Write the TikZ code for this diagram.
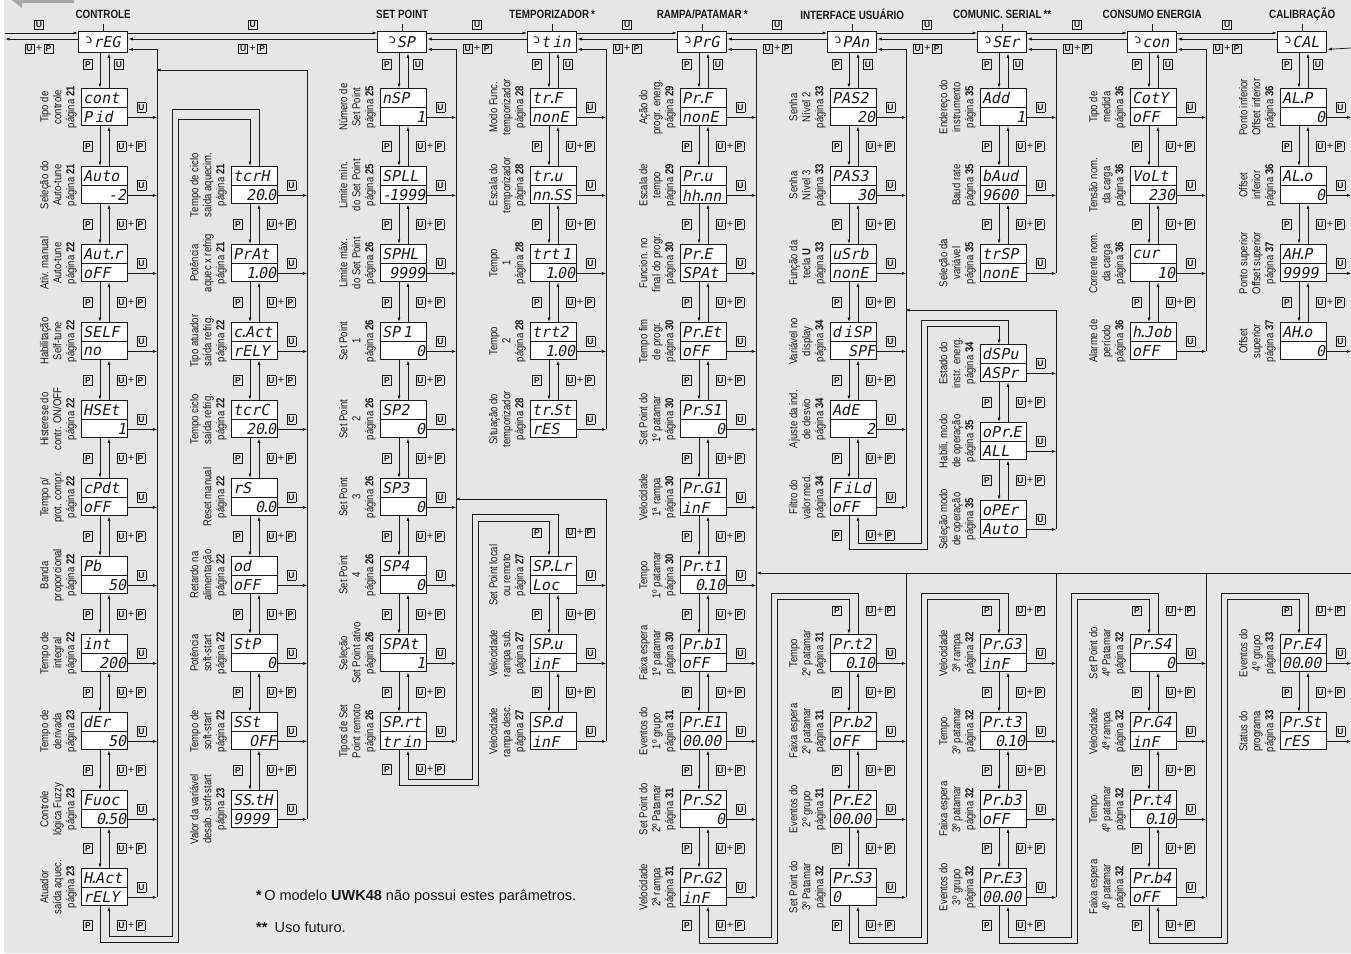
\documentclass[tikz,border=0pt]{standalone}
\usepackage{fontspec}
\usepackage{graphicx}
\setmainfont{Liberation Sans}
\newfontfamily\lblfont{Liberation Sans}[FakeStretch=0.83]
\newfontfamily\headfont{Liberation Sans}[FakeStretch=0.82]
\newfontfamily\segfont{DejaVu Sans Mono}[FakeSlant=0.2]
\usetikzlibrary{arrows.meta,calc}

\definecolor{panel}{HTML}{E6E6E6}
\definecolor{ink}{HTML}{1A1A1A}
\definecolor{tabgray}{HTML}{A8A8A8}

\tikzset{
  dispbox/.style={draw=ink, line width=1.4pt, fill=white, minimum width=46pt, minimum height=37pt, inner sep=0pt},
  topdisp/.style={draw=ink, line width=1.4pt, fill=white, minimum width=49pt, minimum height=21pt, inner sep=0pt, text=ink, font=\segfont\fontsize{15}{15}\selectfont},
  bar/.style={draw=ink, line width=0.8pt},
  seg/.style={inner sep=1pt, text=ink, font=\segfont\fontsize{15}{15}\selectfont},
  lbl/.style={rotate=90, anchor=south, align=center, inner sep=0pt, text=ink, font=\lblfont\fontsize{11.5}{13}\selectfont},
  head/.style={inner sep=0pt, text=ink, font=\headfont\bfseries\fontsize{12}{12}\selectfont},
  key/.style={inner sep=0pt, text=ink, font=\bfseries\fontsize{8.5}{9}\selectfont},
  note/.style={inner sep=0pt, text=ink, font=\fontsize{14.5}{16}\selectfont},
  wire/.style={draw=ink, line width=0.75pt},
  flow/.style={wire, -{Latex[length=4.5pt,width=3pt]}},
}

% keys of the front panel
\newcommand\kU{{\setlength\fboxsep{1.3pt}\setlength\fboxrule{0.7pt}\fbox{\makebox[5.6pt]{U}}}}
\newcommand\kP{{\setlength\fboxsep{1.3pt}\setlength\fboxrule{0.7pt}\fbox{\makebox[5.6pt]{P}}}}
\newcommand\kUP{\kU\hspace{1.5pt}{\mdseries\fontsize{11}{11}\selectfont+}\hspace{1.5pt}\kP}
\newcommand\mtop{\raisebox{0.5ex}{\reflectbox{\scalebox{0.8}{c}}}}
\newcommand\dt{\makebox[3pt]{.}}

% menu head: name, left x, display text, title
\newcommand\topbox[4]{%
  \node[topdisp, anchor=north west] (#1) at (#2,31) {#3};
  \node[head] (#1-h) at ($(#1.north)+(0,-17)$) {#4};
  \draw[wire] ($(#1.north)+(0,-7)$) -- (#1.north);
}
% parameter display: name, left x, top y, line 1, line 2 left, line 2 right, label
\newcommand\disp[7]{%
  \node[dispbox, anchor=north west] (#1) at (#2,#3) {};
  \draw[bar] (#1.west) -- (#1.east);
  \node[seg, anchor=west] (#1-a) at ($(#1.north west)+(1,10)$) {#4};
  \node[seg, anchor=west] (#1-b) at ($(#1.south west)+(1,-9)$) {#5};
  \node[seg, anchor=east] (#1-c) at ($(#1.south east)+(-1,-9)$) {#6};
  \node[lbl] (#1-l) at ($(#1.west)+(-4,0)$) {#7};
}
% head -> first parameter
\newcommand\first[2]{%
  \draw[flow] ($(#1.south west)+(22,0)$) -- ($(#2.north west)+(19,0)$);
  \draw[flow] ($(#2.north west)+(28,0)$) -- ($(#1.south west)+(31,0)$);
  \node[key] (#2-fp) at ($(#1.south west)+(10,11)$) {\kP};
  \node[key] (#2-fu) at ($(#1.south west)+(41,11)$) {\kU};
}
% parameter -> next parameter
\newcommand\link[2]{%
  \draw[flow] ($(#1.south west)+(19,0)$) -- ($(#2.north west)+(19,0)$);
  \draw[flow] ($(#2.north west)+(28,0)$) -- ($(#1.south west)+(28,0)$);
  \node[key] (#1-lp) at ($(#1.south west)+(7,20)$) {\kP};
  \node[key] (#1-lup) at ($(#1.south west)+(50,20)$) {\kUP};
}
% U key back to the menu line
\newcommand\uout[1]{%
  \coordinate (#1-u) at ($(#1.south east)+(29,-9)$);
  \draw[flow] ($(#1.south east)+(0,-9)$) -- (#1-u);
  \node[key] (#1-ku) at ($(#1.south east)+(13,-19)$) {\kU};
}
\newcommand\uoutr[1]{%
  \coordinate (#1-u) at ($(#1.south east)+(24,-9)$);
  \draw[flow] ($(#1.south east)+(0,-9)$) -- (#1-u);
  \node[key] (#1-ku) at ($(#1.south east)+(13,-19)$) {\kU};
}
% last parameter of a column -> top of next column
\newcommand\wrap[8]{%
  \coordinate (#1-w1) at (#3,#5); \coordinate (#1-w2) at (#3,#7);
  \coordinate (#1-w3) at (#4,#6); \coordinate (#1-w4) at (#4,#8);
  \draw[flow] ($(#1.south west)+(19,0)$) |- (#1-w4) -- (#1-w3) -| ($(#2.north west)+(19,0)$);
  \draw[flow] ($(#2.north west)+(28,0)$) |- (#1-w1) -- (#1-w2) -| ($(#1.south west)+(28,0)$);
  \node[key] (#1-wp) at ($(#1.south west)+(7,19)$) {\kP};
  \node[key] (#1-wup) at ($(#1.south west)+(50,19)$) {\kUP};
}
\newcommand\wraplbl[1]{%
  \node[key] (#1-ap) at ($(#1.north west)+(7,-23)$) {\kP};
  \node[key] (#1-aup) at ($(#1.north west)+(50,-23)$) {\kUP};
}
% head -> next head
\newcommand\nexttop[2]{%
  \draw[flow] ($(#1.north east)+(0,2)$) -- ($(#2.north west)+(0,2)$);
  \draw[flow] ($(#2.north west)+(0,8)$) -- ($(#1.north east)+(0,8)$);
  \node[key] (#1-tu) at ($(#1.north east)!.5!(#2.north west)+(0,-6)$) {\kU};
  \node[key] (#1-tup) at ($(#1.north east)!.5!(#2.north west)+(0,18)$) {\kUP};
}

\begin{document}
\begin{tikzpicture}[x=1pt, y=-1pt]
\useasboundingbox (0,0) rectangle (1351,953);
\fill[white] (0,0) rectangle (1351,953);
\fill[panel] (4,0) rectangle (1351,953);
\fill[tabgray] (8,-3) -- (22,8) -- (22,3) -- (74,3) -- (74,-3) -- cycle;

% menu heads
\topbox{rEG}{78}{\mtop rEG}{CONTROLE}
\topbox{sp}{377}{\mtop SP}{SET POINT}
\topbox{tin}{527}{\mtop t\,in}{TEMPORIZADOR\,*}
\topbox{prg}{677}{\mtop PrG}{RAMPA/PATAMAR\,*}
\topbox{pan}{827}{\mtop PAn}{INTERFACE USUÁRIO}
\topbox{ser}{977}{\mtop SEr}{COMUNIC. SERIAL\,**}
\topbox{con}{1127}{\mtop con}{CONSUMO ENERGIA}
\topbox{cal}{1277}{\mtop CAL}{CALIBRAÇÃO}

\nexttop{rEG}{sp}
\nexttop{sp}{tin}
\nexttop{tin}{prg}
\nexttop{prg}{pan}
\nexttop{pan}{ser}
\nexttop{ser}{con}
\nexttop{con}{cal}
\coordinate (edgea) at (5,33);
\coordinate (edgeb) at (5,39);
\coordinate (edgec) at (1351,48);
\draw[flow] (edgea) -- ($(rEG.north west)+(0,2)$);
\draw[flow] ($(rEG.north west)+(0,8)$) -- (edgeb);
\node[key] (edge-u) at (39,25) {\kU};
\node[key] (edge-up) at (39,49) {\kUP};
\draw[flow] (edgec) -- ($(cal.south east)+(0,-4)$);

% CONTROLE
\disp{cont}{81}{88}{cont}{P\,id}{}{Tipo de\\controle\\página \textbf{21}}
\disp{auto}{81}{166}{Auto}{}{-2}{Seleção do\\Auto-tune\\página \textbf{21}}
\disp{autr}{81}{244}{Aut\dt r}{oFF}{}{Ativ. manual\\Auto-tune\\página \textbf{22}}
\disp{self}{81}{322}{SELF}{no}{}{Habilitação\\Self-tune\\página \textbf{22}}
\disp{hset}{81}{400}{HSEt}{}{1}{Histerese do\\contr. ON/OFF\\página \textbf{22}}
\disp{cpdt}{81}{478}{cPdt}{oFF}{}{Tempo p/\\prot. compr.\\página \textbf{22}}
\disp{pb}{81}{556}{Pb}{}{50}{Banda\\proporcional\\página \textbf{22}}
\disp{int}{81}{634}{int}{}{200}{Tempo de\\integral\\página \textbf{22}}
\disp{der}{81}{712}{dEr}{}{50}{Tempo de\\derivada\\página \textbf{23}}
\disp{fuoc}{81}{790}{Fuoc}{}{0\dt50}{Controle\\lógica Fuzzy\\página \textbf{23}}
\disp{hact}{81}{868}{H\dt Act}{rELY}{}{Atuador\\saída aquec.\\página \textbf{23}}
\first{rEG}{cont}
\link{cont}{auto} \link{auto}{autr} \link{autr}{self} \link{self}{hset} \link{hset}{cpdt}
\link{cpdt}{pb} \link{pb}{int} \link{int}{der} \link{der}{fuoc} \link{fuoc}{hact}
\uout{cont} \uout{auto} \uout{autr} \uout{self} \uout{hset} \uout{cpdt}
\uout{pb} \uout{int} \uout{der} \uout{fuoc} \uout{hact}
\draw[flow] (hact-u) |- ($(rEG.south east)+(0,-4)$);

\disp{tcrh}{231}{166}{tcrH}{}{20\dt0}{Tempo de ciclo\\saída aquecim.\\página \textbf{21}}
\disp{prat}{231}{244}{PrAt}{}{1\dt00}{Potência\\aquec x refrig\\página \textbf{21}}
\disp{cact}{231}{322}{c\dt Act}{rELY}{}{Tipo atuador\\saída refrig.\\página \textbf{22}}
\disp{tcrc}{231}{400}{tcrC}{}{20\dt0}{Tempo ciclo\\saída refrig.\\página \textbf{22}}
\disp{rs}{231}{478}{rS}{}{0\dt0}{Reset manual\\página \textbf{22}}
\disp{od}{231}{556}{od}{oFF}{}{Retardo na\\alimentação\\página \textbf{22}}
\disp{stp}{231}{634}{StP}{}{0}{Potência\\soft-start\\página \textbf{22}}
\disp{sst}{231}{712}{SSt}{}{OFF}{Tempo de\\soft-start\\página \textbf{22}}
\disp{ssth}{231}{790}{SS\dt tH}{9999}{}{Valor da variável\\desab. soft-start\\página \textbf{23}}
\link{tcrh}{prat} \link{prat}{cact} \link{cact}{tcrc} \link{tcrc}{rs}
\link{rs}{od} \link{od}{stp} \link{stp}{sst} \link{sst}{ssth}
\uout{tcrh} \uout{prat} \uout{cact} \uout{tcrc} \uout{rs}
\uout{od} \uout{stp} \uout{sst} \uout{ssth}
\coordinate (regjoin) at (156,70);
\draw[flow] (ssth-u) |- (regjoin);
\wrap{hact}{tcrh}{172}{178}{109}{119}{936}{942}

% SET POINT
\disp{nsp}{380}{88}{nSP}{}{1}{Número de\\Set Point\\página \textbf{25}}
\disp{spll}{380}{166}{SPLL}{}{\makebox[5pt]{-}1999}{Limite mín.\\do Set Point\\página \textbf{25}}
\disp{sphl}{380}{244}{SPHL}{}{9999}{Limite máx.\\do Set Point\\página \textbf{26}}
\disp{spa}{380}{322}{SP\,1}{}{0}{Set Point\\1\\página \textbf{26}}
\disp{spb}{380}{400}{SP2}{}{0}{Set Point\\2\\página \textbf{26}}
\disp{spc}{380}{478}{SP3}{}{0}{Set Point\\3\\página \textbf{26}}
\disp{spd}{380}{556}{SP4}{}{0}{Set Point\\4\\página \textbf{26}}
\disp{spat}{380}{634}{SPAt}{}{1}{Seleção\\Set Point ativo\\página \textbf{26}}
\disp{sprt}{380}{712}{SP\dt rt}{tr\,in}{}{Tipos de Set\\Point remoto\\página \textbf{26}}
\first{sp}{nsp}
\link{nsp}{spll} \link{spll}{sphl} \link{sphl}{spa} \link{spa}{spb}
\link{spb}{spc} \link{spc}{spd} \link{spd}{spat} \link{spat}{sprt}
\uout{nsp} \uout{spll} \uout{sphl} \uout{spa} \uout{spb}
\uout{spc} \uout{spd} \uout{spat} \uout{sprt}
\draw[flow] (sprt-u) |- ($(sp.south east)+(0,-4)$);

\disp{splr}{530}{556}{SP\dt Lr}{Loc}{}{Set Point local\\ou remoto\\página \textbf{27}}
\disp{spu}{530}{634}{SP\dt u}{inF}{}{Velocidade\\rampa sub.\\página \textbf{27}}
\disp{spdd}{530}{712}{SP\dt d}{inF}{}{Velocidade\\rampa desc.\\página \textbf{27}}
\link{splr}{spu} \link{spu}{spdd}
\uout{splr} \uout{spu} \uout{spdd}
\coordinate (spjoin) at (455,499);
\draw[flow] (spdd-u) |- (spjoin);
\wrap{sprt}{splr}{472}{478}{514}{521}{779}{785}
\wraplbl{splr}

% TEMPORIZADOR
\disp{trf}{530}{88}{tr\dt F}{nonE}{}{Modo Func.\\temporizador\\página \textbf{28}}
\disp{tru}{530}{166}{tr\dt u}{nn\dt SS}{}{Escala do\\temporizador\\página \textbf{28}}
\disp{trta}{530}{244}{trt\,1}{}{1\dt00}{Tempo\\1\\página \textbf{28}}
\disp{trtb}{530}{322}{trt2}{}{1\dt00}{Tempo\\2\\página \textbf{28}}
\disp{trst}{530}{400}{tr\dt St}{rES}{}{Situação do\\temporizador\\página \textbf{28}}
\first{tin}{trf}
\link{trf}{tru} \link{tru}{trta} \link{trta}{trtb} \link{trtb}{trst}
\uout{trf} \uout{tru} \uout{trta} \uout{trtb} \uout{trst}
\draw[flow] (trst-u) |- ($(tin.south east)+(0,-4)$);

% RAMPA/PATAMAR
\disp{prf}{680}{88}{Pr\dt F}{nonE}{}{Ação do\\progr. energ.\\página \textbf{29}}
\disp{pru}{680}{166}{Pr\dt u}{hh\dt nn}{}{Escala de\\tempo\\página \textbf{29}}
\disp{pre}{680}{244}{Pr\dt E}{SPAt}{}{Funcion. no\\final do progr.\\página \textbf{30}}
\disp{pret}{680}{322}{Pr\dt Et}{oFF}{}{Tempo fim\\de progr.\\página \textbf{30}}
\disp{prsa}{680}{400}{Pr\dt S1}{}{0}{Set Point do\\1º patamar\\página \textbf{30}}
\disp{prga}{680}{478}{Pr\dt G1}{inF}{}{Velocidade\\1ª rampa\\página \textbf{30}}
\disp{prta}{680}{556}{Pr\dt t1}{}{0\dt10}{Tempo\\1º patamar\\página \textbf{30}}
\disp{prba}{680}{634}{Pr\dt b1}{oFF}{}{Faixa espera\\1º patamar\\página \textbf{30}}
\disp{prea}{680}{712}{Pr\dt E1}{00\dt00}{}{Eventos do\\1º grupo\\página \textbf{31}}
\disp{prsb}{680}{790}{Pr\dt S2}{}{0}{Set Point do\\2º Patamar\\página \textbf{31}}
\disp{prgb}{680}{868}{Pr\dt G2}{inF}{}{Velocidade\\2ª rampa\\página \textbf{31}}
\first{prg}{prf}
\link{prf}{pru} \link{pru}{pre} \link{pre}{pret} \link{pret}{prsa} \link{prsa}{prga}
\link{prga}{prta} \link{prta}{prba} \link{prba}{prea} \link{prea}{prsb} \link{prsb}{prgb}
\uout{prf} \uout{pru} \uout{pre} \uout{pret} \uout{prsa} \uout{prga}
\uout{prta} \uout{prba} \uout{prea} \uout{prsb} \uout{prgb}
\draw[flow] (prgb-u) |- ($(prg.south east)+(0,-4)$);

\disp{prtb}{830}{634}{Pr\dt t2}{}{0\dt10}{Tempo\\2º patamar\\página \textbf{31}}
\disp{prbb}{830}{712}{Pr\dt b2}{oFF}{}{Faixa espera\\2º patamar\\página \textbf{31}}
\disp{preb}{830}{790}{Pr\dt E2}{00\dt00}{}{Eventos do\\2º grupo\\página \textbf{31}}
\disp{prsc}{830}{868}{Pr\dt S3}{0}{}{Set Point do\\3º Patamar\\página \textbf{32}}
\link{prtb}{prbb} \link{prbb}{preb} \link{preb}{prsc}
\uout{prtb} \uout{prbb} \uout{preb} \uout{prsc}

\disp{prgc}{980}{634}{Pr\dt G3}{inF}{}{Velocidade\\3ª rampa\\página \textbf{32}}
\disp{prtc}{980}{712}{Pr\dt t3}{}{0\dt10}{Tempo\\3º patamar\\página \textbf{32}}
\disp{prbc}{980}{790}{Pr\dt b3}{oFF}{}{Faixa espera\\3º patamar\\página \textbf{32}}
\disp{prec}{980}{868}{Pr\dt E3}{00\dt00}{}{Eventos do\\3º grupo\\página \textbf{32}}
\link{prgc}{prtc} \link{prtc}{prbc} \link{prbc}{prec}
\uout{prgc} \uout{prtc} \uout{prbc} \uout{prec}

\disp{prsd}{1130}{634}{Pr\dt S4}{}{0}{Set Point do\\4º Patamar\\página \textbf{32}}
\disp{prgd}{1130}{712}{Pr\dt G4}{inF}{}{Velocidade\\4ª rampa\\página \textbf{32}}
\disp{prtd}{1130}{790}{Pr\dt t4}{}{0\dt10}{Tempo\\4º patamar\\página \textbf{32}}
\disp{prbd}{1130}{868}{Pr\dt b4}{oFF}{}{Faixa espera\\4º patamar\\página \textbf{32}}
\link{prsd}{prgd} \link{prgd}{prtd} \link{prtd}{prbd}
\uout{prsd} \uout{prgd} \uout{prtd} \uout{prbd}

\disp{pred}{1280}{634}{Pr\dt E4}{00\dt00}{}{Eventos do\\4º grupo\\página \textbf{33}}
\disp{prst}{1280}{712}{Pr\dt St}{rES}{}{Status do\\programa\\página \textbf{33}}
\link{pred}{prst}
\uoutr{pred} \uoutr{prst}

\coordinate (rampjoin) at (1351,573);
\draw[flow] (rampjoin) -- (rampjoin -| prgb-u);
\draw[wire] (prsc-u) -- (prsc-u |- rampjoin);
\draw[wire] (prec-u) -- (prec-u |- rampjoin);
\draw[wire] (prbd-u) -- (prbd-u |- rampjoin);
\wrap{prgb}{prtb}{771}{777}{593}{599}{937}{943}
\wrap{prsc}{prgc}{921}{927}{593}{599}{937}{943}
\wrap{prec}{prsd}{1071}{1077}{593}{599}{937}{943}
\wrap{prbd}{pred}{1221}{1227}{593}{599}{937}{943}
\wraplbl{prtb} \wraplbl{prgc} \wraplbl{prsd} \wraplbl{pred}

% INTERFACE USUARIO
\disp{pasb}{830}{88}{PAS2}{}{20}{Senha\\Nível 2\\página \textbf{33}}
\disp{pasc}{830}{166}{PAS3}{}{30}{Senha\\Nível 3\\página \textbf{33}}
\disp{usrb}{830}{244}{uSrb}{nonE}{}{Função da\\tecla \textbf{U}\\página \textbf{33}}
\disp{dsp}{830}{322}{d\,iSP}{}{SPF}{Variável no\\display\\página \textbf{34}}
\disp{ade}{830}{400}{AdE}{}{2}{Ajuste da ind.\\de desvio\\página \textbf{34}}
\disp{fild}{830}{478}{F\,iLd}{oFF}{}{Filtro do\\valor med.\\página \textbf{34}}
\first{pan}{pasb}
\link{pasb}{pasc} \link{pasc}{usrb} \link{usrb}{dsp} \link{dsp}{ade} \link{ade}{fild}
\uout{pasb} \uout{pasc} \uout{usrb} \uout{dsp} \uout{ade} \uout{fild}
\draw[flow] (fild-u) |- ($(pan.south east)+(0,-4)$);

\disp{dspu}{980}{344}{dSPu}{ASPr}{}{Estado do\\instr. energ.\\página \textbf{34}}
\disp{opre}{980}{422}{oPr\dt E}{ALL}{}{Habili. modo\\de operação\\página \textbf{35}}
\disp{oper}{980}{500}{oPEr}{Auto}{}{Seleção modo\\de operação\\página \textbf{35}}
\link{dspu}{opre} \link{opre}{oper}
\uout{dspu} \uout{opre} \uout{oper}
\coordinate (panjoin) at (905,310);
\draw[flow] (oper-u) |- (panjoin);
\wrap{fild}{dspu}{921}{927}{320}{326}{543}{549}

% COMUNIC. SERIAL
\disp{add}{980}{88}{Add}{}{1}{Endereço do\\instrumento\\página \textbf{35}}
\disp{baud}{980}{166}{bAud}{9600}{}{Baud rate\\página \textbf{35}}
\disp{trsp}{980}{244}{trSP}{nonE}{}{Seleção da\\variável\\página \textbf{35}}
\first{ser}{add}
\link{add}{baud} \link{baud}{trsp}
\uout{add} \uout{baud} \uout{trsp}
\draw[flow] (trsp-u) |- ($(ser.south east)+(0,-4)$);

% CONSUMO ENERGIA
\disp{coty}{1130}{88}{CotY}{oFF}{}{Tipo de\\medida\\página \textbf{36}}
\disp{volt}{1130}{166}{VoLt}{}{230}{Tensão nom.\\da carga\\página \textbf{36}}
\disp{cur}{1130}{244}{cur}{}{10}{Corrente nom.\\da carga\\página \textbf{36}}
\disp{hjob}{1130}{322}{h\dt Job}{oFF}{}{Alarme de\\período\\página \textbf{36}}
\first{con}{coty}
\link{coty}{volt} \link{volt}{cur} \link{cur}{hjob}
\uout{coty} \uout{volt} \uout{cur} \uout{hjob}
\draw[flow] (hjob-u) |- ($(con.south east)+(0,-4)$);

% CALIBRACAO
\disp{alp}{1280}{88}{AL\dt P}{}{0}{Ponto inferior\\Offset inferior\\página \textbf{36}}
\disp{alo}{1280}{166}{AL\dt o}{}{0}{Offset\\inferior\\página \textbf{36}}
\disp{ahp}{1280}{244}{AH\dt P}{9999}{}{Ponto superior\\Offset superior\\página \textbf{37}}
\disp{aho}{1280}{322}{AH\dt o}{}{0}{Offset\\superior\\página \textbf{37}}
\first{cal}{alp}
\link{alp}{alo} \link{alo}{ahp} \link{ahp}{aho}
\uoutr{alp} \uoutr{alo} \uoutr{ahp} \uoutr{aho}

% notes
\node[note, anchor=west] (note1) at (256,897) {{\bfseries *}\,O modelo \textbf{UWK48} não possui estes parâmetros.};
\node[note, anchor=west] (note2) at (256,927) {{\bfseries **}\enspace Uso futuro.};

\end{tikzpicture}
\end{document}
